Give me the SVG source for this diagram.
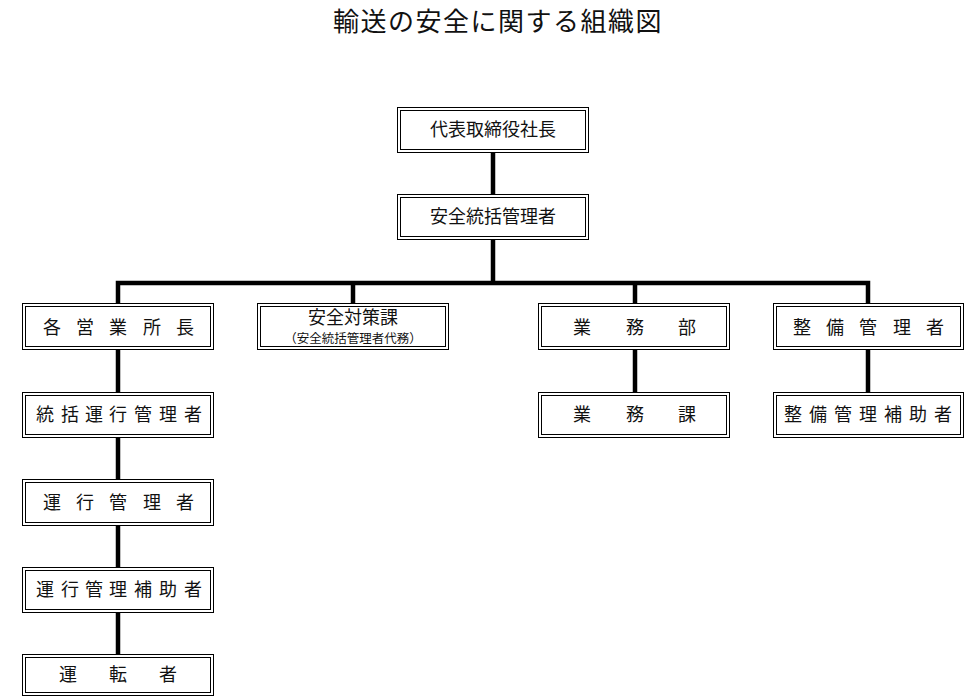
<svg xmlns="http://www.w3.org/2000/svg" width="979" height="700" viewBox="0 0 979 700">
<style>
.o{fill:#fff;stroke:#000;stroke-width:1}
.i{fill:none;stroke:#000;stroke-width:1}
.t{font-family:"Noto Sans CJK JP","Noto Sans CJK SC",sans-serif;font-size:18px;fill:#111;text-anchor:middle}
.s{font-size:12.5px}
.title{font-family:"Noto Sans CJK JP","Noto Sans CJK SC",sans-serif;font-size:26px;fill:#111;text-anchor:middle;letter-spacing:1.5px}
.c{stroke:#000;stroke-width:4.5;fill:none;stroke-linecap:square}
</style>
<rect width="979" height="700" fill="#fff"/>
<text class="title" x="498" y="31">輸送の安全に関する組織図</text>
<g id="connectors">
<path class="c" d="M493 152V194M493 239V283M118 283H868M118 283V303M353 283V303M635 283V303M868 283V303M118 350V392M118 438V479M118 526V567M118 613V654M635 349V392M868 349V392"/>
</g>
<g id="president">
<rect class="o" x="397.5" y="107.5" width="191" height="45"/><rect class="i" x="400.5" y="110.5" width="185" height="39"/>
<text class="t" x="493" y="136">代表取締役社長</text>
</g>
<g id="safety-manager">
<rect class="o" x="397.5" y="194.5" width="191" height="45"/><rect class="i" x="400.5" y="197.5" width="185" height="39"/>
<text class="t" x="493" y="223">安全統括管理者</text>
</g>
<g id="branch-heads">
<rect class="o" x="22.5" y="303.5" width="191" height="46"/><rect class="i" x="25.5" y="306.5" width="185" height="40"/>
<text class="t" x="52 85 118 152 185" y="334">各営業所長</text>
</g>
<g id="safety-section">
<rect class="o" x="257.5" y="303.5" width="191" height="46"/><rect class="i" x="260.5" y="306.5" width="185" height="40"/>
<text class="t" x="353" y="324">安全対策課</text>
<text class="t s" x="353" y="343">（安全統括管理者代務）</text>
</g>
<g id="business-dept">
<rect class="o" x="538.5" y="303.5" width="191" height="46"/><rect class="i" x="541.5" y="306.5" width="185" height="40"/>
<text class="t" x="582 635 687" y="334">業務部</text>
</g>
<g id="maintenance-manager">
<rect class="o" x="773.5" y="303.5" width="190" height="46"/><rect class="i" x="776.5" y="306.5" width="184" height="40"/>
<text class="t" x="802 835 868 902 935" y="334">整備管理者</text>
</g>
<g id="chief-operation-manager">
<rect class="o" x="22.5" y="392.5" width="191" height="45"/><rect class="i" x="25.5" y="395.5" width="185" height="39"/>
<text class="t" x="45 70 94 118 143 168 193" y="421">統括運行管理者</text>
</g>
<g id="business-section">
<rect class="o" x="538.5" y="392.5" width="191" height="45"/><rect class="i" x="541.5" y="395.5" width="185" height="39"/>
<text class="t" x="582 635 687" y="421">業務課</text>
</g>
<g id="maintenance-assistant">
<rect class="o" x="773.5" y="392.5" width="190" height="45"/><rect class="i" x="776.5" y="395.5" width="184" height="39"/>
<text class="t" x="793 818 843 868 893 918 943" y="421">整備管理補助者</text>
</g>
<g id="operation-manager">
<rect class="o" x="22.5" y="479.5" width="191" height="46"/><rect class="i" x="25.5" y="482.5" width="185" height="40"/>
<text class="t" x="52 85 118 152 185" y="509">運行管理者</text>
</g>
<g id="operation-assistant">
<rect class="o" x="22.5" y="567.5" width="191" height="45"/><rect class="i" x="25.5" y="570.5" width="185" height="39"/>
<text class="t" x="45 70 94 118 143 168 193" y="596">運行管理補助者</text>
</g>
<g id="driver">
<rect class="o" x="22.5" y="654.5" width="191" height="41"/><rect class="i" x="25.5" y="657.5" width="185" height="35"/>
<text class="t" x="68 118 168" y="681">運転者</text>
</g>
</svg>
